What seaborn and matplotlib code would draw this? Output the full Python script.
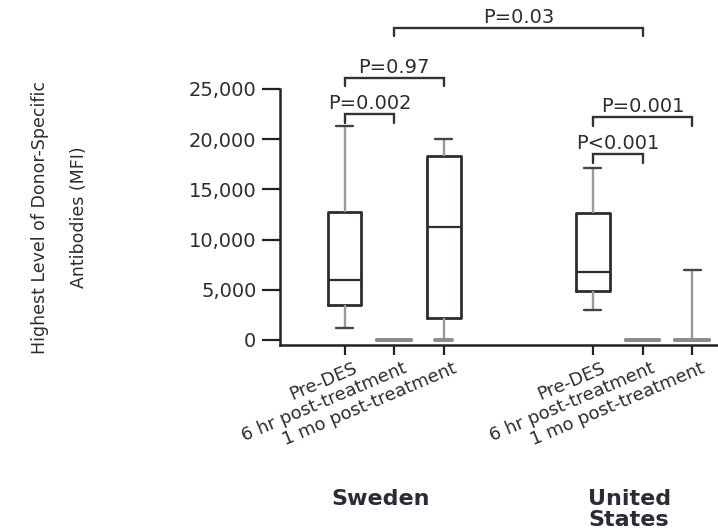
import numpy as np
import pandas as pd
import matplotlib
matplotlib.use("Agg")
import matplotlib.pyplot as plt
from matplotlib.transforms import ScaledTranslation, blended_transform_factory
from matplotlib.ticker import StrMethodFormatter
import seaborn as sns

countries = ["Sweden", "United\nStates"]
timepoints = ["Pre-DES", "6 hr post-treatment", "1 mo post-treatment"]
positions = [0, 1, 2, 5, 6, 7]  # x slot of each country / timepoint pair

# five-number summaries (min, Q1, median, Q3, max) of the highest DSA level, MFI
sweden_pre = [1200, 3500, 6000, 12700, 21300]
sweden_6hr = [0, 0, 0, 0, 0]
sweden_1mo = [0, 2200, 11300, 18300, 20000]
us_pre = [3000, 4900, 6800, 12600, 17100]
us_6hr = [0, 0, 0, 0, 0]
us_1mo = [0, 0, 0, 0, 7000]

yticks = [0, 5000, 10000, 15000, 20000, 25000]

# pairwise comparisons: left slot, right slot, label, bracket height
comp_left = [0, 0, 5, 5, 1]
comp_right = [1, 2, 6, 7, 6]
comp_labels = ["P=0.002", "P=0.97", "P<0.001", "P=0.001", "P=0.03"]
comp_heights = [22500, 26100, 18500, 22200, 31100]

INK = "#2c2c36"

summaries = [sweden_pre, sweden_6hr, sweden_1mo, us_pre, us_6hr, us_1mo]
rows = []
for slot, vals in zip(positions, summaries):
    for v in vals:
        rows.append({"slot": slot, "mfi": v})
df = pd.DataFrame(rows)

sns.set_theme(style="ticks")
plt.rcParams["font.family"] = ["DejaVu Sans"]

W, H = 718, 531
fig = plt.figure(figsize=(W / 100, H / 100), dpi=100)
ax = fig.add_axes([280 / W, 1 - 345 / H, (W - 280) / W, 256 / H])

sns.boxplot(
    data=df, x="slot", y="mfi", native_scale=True, whis=(0, 100),
    width=0.68, fill=False, showfliers=False, color=INK, linewidth=1.8,
    boxprops=dict(color=INK, linewidth=2.0),
    medianprops=dict(color=INK, linewidth=1.6),
    whiskerprops=dict(color="#9a9a9a", linewidth=1.7),
    capprops=dict(color="#444444", linewidth=1.7),
    ax=ax,
)

# groups sitting flat at zero are drawn as a grey bar
for line in ax.lines:
    y = np.asarray(line.get_ydata(), dtype=float)
    if y.size and np.allclose(y, 0):
        line.set_color("#8c8c8c")
        line.set_linewidth(2.8)

ax.set_xlim(-1.3, 7.52)
ax.set_ylim(-500, 25000)
ax.set_yticks(yticks)
ax.yaxis.set_major_formatter(StrMethodFormatter("{x:,.0f}"))
ax.set_xticks(positions)
ax.set_xticklabels(timepoints * 2, rotation=23, ha="right", va="top",
                   rotation_mode="anchor")
ax.set_xlabel("")
sns.despine(ax=ax)
for side in ("left", "bottom"):
    ax.spines[side].set_linewidth(1.8)
    ax.spines[side].set_color("#222222")
ax.tick_params(axis="y", length=13, width=1.6, pad=4, labelsize=14,
               colors="#222222", labelcolor=INK)
ax.tick_params(axis="x", length=7, width=1.6, pad=1, labelsize=13,
               colors="#222222", labelcolor=INK)
shift = ScaledTranslation(0.08, -0.03, fig.dpi_scale_trans)
for lab in ax.get_xticklabels():
    lab.set_transform(lab.get_transform() + shift)

ax.set_ylabel("Highest Level of Donor-Specific\nAntibodies (MFI)",
              fontsize=12.5, linespacing=2.5, color=INK)
ax.yaxis.label.set_verticalalignment("center")
ax.yaxis.set_label_coords((60 - 280) / (W - 280), 0.5)

# country names under each group of ticks
trans = blended_transform_factory(ax.transData, fig.transFigure)
for name, slots in zip(countries, [positions[:3], positions[3:]]):
    ax.text(np.mean(slots) - 0.27, 1 - 489 / H, name, transform=trans,
            ha="center", va="top", fontsize=16, fontweight="bold",
            linespacing=1.05, color=INK)

# significance brackets
leg = 850
for l, r, lab, h in zip(comp_left, comp_right, comp_labels, comp_heights):
    ax.plot([l, l, r, r], [h - leg, h, h, h - leg], color="#333333",
            linewidth=1.7, clip_on=False, solid_joinstyle="miter")
    ax.text((l + r) / 2, h + 120, lab, ha="center", va="bottom",
            fontsize=14, color=INK, clip_on=False)

fig.savefig("out.png", dpi=100)
